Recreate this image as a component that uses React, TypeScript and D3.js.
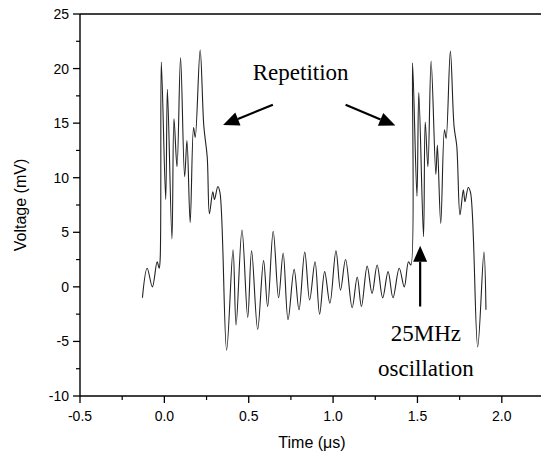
import React from "react";
import * as d3 from "d3";

// Waveform: time (µs) and voltage (mV)
const timeUs = [
  -0.13, -0.102, -0.071, -0.043, -0.031, -0.025, -0.018, 0.008, 0.018, 0.045,
  0.057, 0.075, 0.096, 0.12, 0.134, 0.153, 0.173, 0.183, 0.212, 0.234,
  0.254, 0.267, 0.287, 0.297, 0.317, 0.33, 0.369, 0.407, 0.425, 0.46,
  0.494, 0.517, 0.553, 0.588, 0.612, 0.645, 0.677, 0.704, 0.733, 0.769,
  0.798, 0.832, 0.861, 0.893, 0.92, 0.95, 0.981, 1.017, 1.044, 1.074,
  1.113, 1.143, 1.168, 1.202, 1.231, 1.261, 1.294, 1.326, 1.355, 1.392,
  1.422, 1.447, 1.461, 1.471, 1.497, 1.508, 1.536, 1.546, 1.562, 1.581,
  1.609, 1.618, 1.638, 1.66, 1.67, 1.695, 1.717, 1.733, 1.752, 1.772,
  1.782, 1.801, 1.815, 1.857, 1.894, 1.906,
];
const voltageMv = [
  -1.0, 1.7, 0.0, 2.3, 1.7, 2.5, 20.6, 8.0, 18.1, 4.4,
  15.4, 11.0, 21.0, 10.1, 13.4, 5.9, 14.6, 13.7, 21.7, 14.7,
  11.9, 6.7, 8.7, 8.0, 9.2, 8.6, -5.8, 3.4, -3.5, 5.2,
  -2.8, 3.3, -3.9, 2.4, -1.8, 5.1, -1.0, 3.1, -3.0, 1.6,
  -2.1, 3.2, -1.2, 2.3, -2.5, 1.4, -1.5, 3.3, -0.3, 2.5,
  -1.9, 0.9, -1.8, 1.9, -0.6, 2.0, -1.0, 1.4, -1.0, 1.7,
  0.0, 2.3, 2.0, 20.5, 8.3, 17.8, 4.6, 15.1, 11.0, 20.7,
  10.3, 13.0, 5.8, 14.4, 13.6, 21.6, 14.7, 12.9, 6.6, 8.9,
  7.8, 9.1, 8.6, -5.5, 3.2, -2.1,
];

const xMajorTicks = [-0.5, 0.0, 0.5, 1.0, 1.5, 2.0];
const xMinorTicks = [-0.25, 0.25, 0.75, 1.25, 1.75];
const yMajorTicks = [-10, -5, 0, 5, 10, 15, 20, 25];
const yMinorTicks = [-7.5, -2.5, 2.5, 7.5, 12.5, 17.5, 22.5];

const W = 541;
const H = 454;
const M = { left: 80, top: 14, right: 544, bottom: 396 };

const x = d3.scaleLinear().domain([-0.5, 2.25]).range([M.left, M.right]);
const y = d3.scaleLinear().domain([-10, 25]).range([M.bottom, M.top]);

const sansFont = "'Liberation Sans', Arial, sans-serif";
const serifFont = "'Liberation Serif', 'Times New Roman', serif";

function Arrow({ x1, y1, x2, y2, head = 16, half = 7 }: any) {
  const dx = x2 - x1;
  const dy = y2 - y1;
  const len = Math.sqrt(dx * dx + dy * dy);
  const ux = dx / len;
  const uy = dy / len;
  const bx = x2 - ux * head;
  const by = y2 - uy * head;
  const px = -uy * half;
  const py = ux * half;
  return (
    <g>
      <line x1={x1} y1={y1} x2={bx} y2={by} stroke="#000" strokeWidth={2.2} />
      <polygon
        points={`${x2},${y2} ${bx + px},${by + py} ${bx - px},${by - py}`}
        fill="#000"
      />
    </g>
  );
}

export default function App() {
  const pts: [number, number][] = timeUs.map((t, i) => [t, voltageMv[i]]);
  const line = d3
    .line<[number, number]>()
    .x((d) => x(d[0]))
    .y((d) => y(d[1]))
    .curve(d3.curveCatmullRom.alpha(0.5));

  return (
    <svg
      width={W}
      height={H}
      style={{ position: "absolute", left: 0, top: 0, background: "#fff" }}
    >
      <rect x={0} y={0} width={W} height={H} fill="#fff" />
      {/* frame */}
      <line x1={M.left} y1={M.top} x2={M.right} y2={M.top} stroke="#000" strokeWidth={1.4} />
      <line x1={M.right} y1={M.top} x2={M.right} y2={M.bottom} stroke="#000" strokeWidth={1.4} />
      <line x1={M.left} y1={M.bottom} x2={M.right} y2={M.bottom} stroke="#000" strokeWidth={1.4} />
      <line x1={M.left} y1={M.top} x2={M.left} y2={M.bottom} stroke="#000" strokeWidth={1.4} />

      {/* x ticks */}
      {xMajorTicks.map((t) => (
        <g key={"xm" + t}>
          <line x1={x(t)} x2={x(t)} y1={M.bottom} y2={M.bottom + 7} stroke="#000" strokeWidth={1.3} />
          <text
            x={x(t)}
            y={421}
            textAnchor="middle"
            fontFamily={sansFont}
            fontSize={14}
            fill="#000"
          >
            {t.toFixed(1)}
          </text>
        </g>
      ))}
      {xMinorTicks.map((t) => (
        <line key={"xn" + t} x1={x(t)} x2={x(t)} y1={M.bottom} y2={M.bottom + 4} stroke="#000" strokeWidth={1.2} />
      ))}

      {/* y ticks */}
      {yMajorTicks.map((v) => (
        <g key={"ym" + v}>
          <line x1={M.left - 7} x2={M.left} y1={y(v)} y2={y(v)} stroke="#000" strokeWidth={1.3} />
          <text
            x={69}
            y={y(v)}
            dy="0.36em"
            textAnchor="end"
            fontFamily={sansFont}
            fontSize={14}
            fill="#000"
          >
            {String(v)}
          </text>
        </g>
      ))}
      {yMinorTicks.map((v) => (
        <line key={"yn" + v} x1={M.left - 4} x2={M.left} y1={y(v)} y2={y(v)} stroke="#000" strokeWidth={1.2} />
      ))}

      {/* axis titles */}
      <text
        x={312}
        y={448}
        textAnchor="middle"
        fontFamily={sansFont}
        fontSize={16}
        fill="#000"
      >
        Time (μs)
      </text>
      <text
        transform={`translate(26, ${(M.top + M.bottom) / 2}) rotate(-90)`}
        textAnchor="middle"
        fontFamily={sansFont}
        fontSize={16}
        fill="#000"
      >
        Voltage (mV)
      </text>

      {/* waveform */}
      <path d={line(pts) || ""} fill="none" stroke="#222" strokeWidth={1.1} />

      {/* annotations */}
      <text
        x={x(0.808)}
        y={y(18.97)}
        textAnchor="middle"
        fontFamily={serifFont}
        fontSize={23}
        fill="#000"
      >
        Repetition
      </text>
      <Arrow x1={x(0.643)} y1={y(16.68)} x2={x(0.348)} y2={y(14.84)} />
      <Arrow x1={x(1.074)} y1={y(16.68)} x2={x(1.369)} y2={y(14.78)} />
      <Arrow x1={x(1.516)} y1={y(-1.8)} x2={x(1.516)} y2={y(3.76)} />
      <text
        x={x(1.55)}
        y={y(-5.0)}
        textAnchor="middle"
        fontFamily={serifFont}
        fontSize={23}
        fill="#000"
      >
        25MHz
      </text>
      <text
        x={x(1.55)}
        y={y(-8.15)}
        textAnchor="middle"
        fontFamily={serifFont}
        fontSize={23}
        fill="#000"
      >
        oscillation
      </text>
    </svg>
  );
}
